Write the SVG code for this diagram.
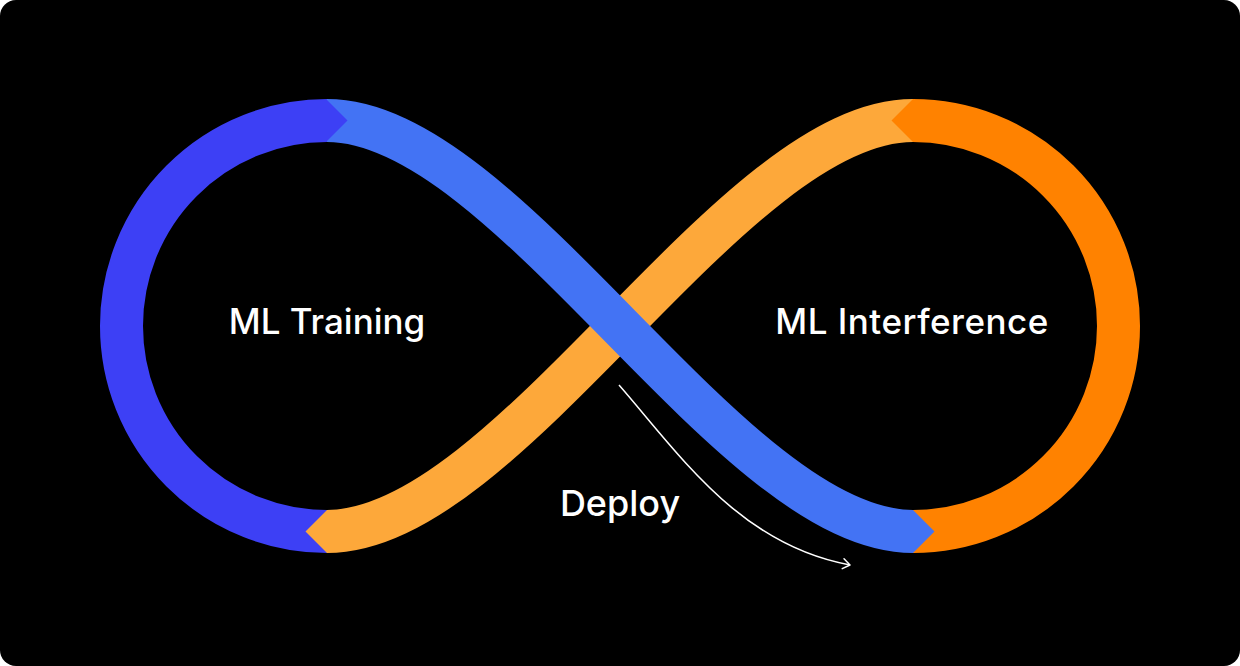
<svg xmlns="http://www.w3.org/2000/svg" width="1240" height="666" viewBox="0 0 1240 666">
  <style>
    .band { fill: none; stroke-width: 43; stroke-linecap: butt; }
    .label { fill: #ffffff; font-family: Inter, "Liberation Sans", sans-serif; font-weight: 500; text-anchor: middle; }
  </style>
  <defs>
    <marker id="arrowOpen" viewBox="0 0 12 12" refX="10" refY="6" markerWidth="12" markerHeight="12" markerUnits="userSpaceOnUse" orient="auto">
      <path d="M3 1 L10 6 L3 11" fill="none" stroke="#ffffff" stroke-width="1.5" stroke-linecap="round" stroke-linejoin="round"/>
    </marker>
  </defs>
  <rect x="0" y="0" width="1240" height="666" fill="#ffffff"/>
  <rect x="0" y="0" width="1240" height="666" rx="16" ry="16" fill="#000000"/>

  <g id="segment-orange-s">
    <path class="band" stroke="#FDA83A" d="M 327 531.5 C 509 531.5, 731 120.5, 913 120.5"/>
  </g>
  <g id="segment-orange-loop">
    <path class="band" stroke="#FF8200" d="M 913 120.5 A 205.5 205.5 0 0 1 913 531.5"/>
  </g>
  <g id="segment-blue-loop">
    <path class="band" stroke="#3D40F5" d="M 327 120.5 A 205.5 205.5 0 0 0 327 531.5"/>
  </g>
  <g id="segment-blue-s">
    <path class="band" stroke="#4373F4" d="M 327 120.5 C 509 120.5, 731 531.5, 913 531.5"/>
  </g>
  <g id="chevrons">
    <polygon fill="#3D40F5" points="326,99 347.5,120.5 326,142"/>
    <polygon fill="#FDA83A" points="327,510 305.5,531.5 327,553"/>
    <polygon fill="#FF8200" points="913,99 891.5,120.5 913,142"/>
    <polygon fill="#4373F4" points="913,510 934.5,531.5 913,553"/>
  </g>

  <g id="node-training">
    <text class="label" x="327" y="334" font-size="35">ML Training</text>
  </g>
  <g id="node-inference">
    <text class="label" x="912" y="334" font-size="35" letter-spacing="0.5">ML Interference</text>
  </g>

  <g id="connectors">
    <path d="M 619 385 C 680 455, 740 545, 850 565" fill="none" stroke="#ffffff" stroke-width="1.5" marker-end="url(#arrowOpen)"/>
    <text class="label" x="620" y="516" font-size="36">Deploy</text>
  </g>
</svg>
